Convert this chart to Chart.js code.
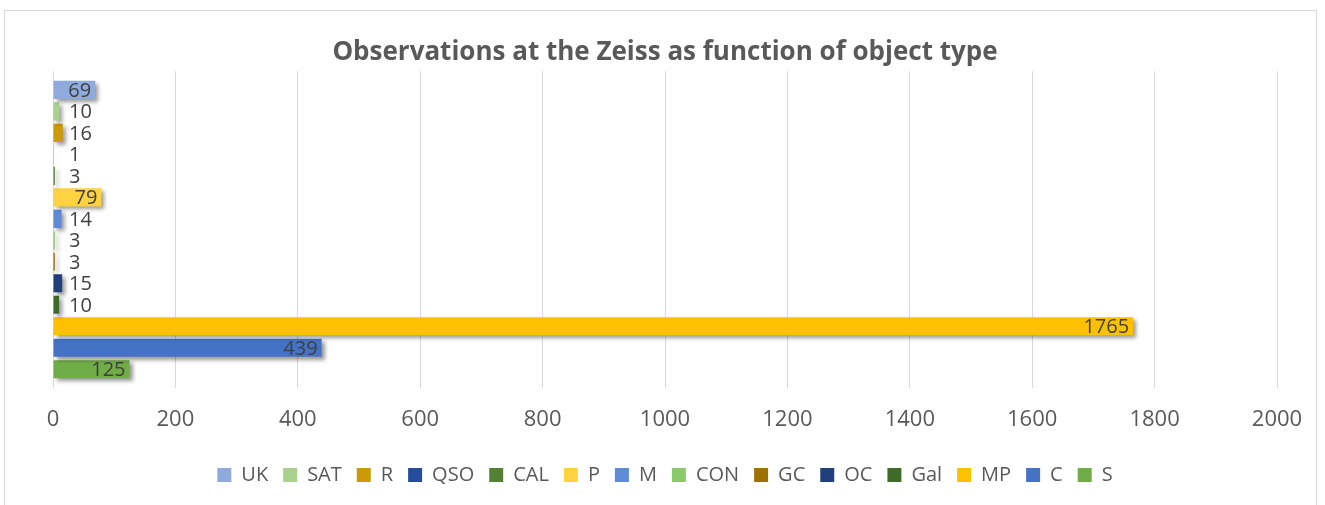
<!DOCTYPE html>
<html>
<head>
    <title>Observations at the Zeiss</title>
    <script src="https://cdn.jsdelivr.net/npm/chart.js"></script>
    <style>
        body {
            margin: 0;
            background-color: #fff;
        }
        #wrap {
            width: 1325px;
            height: 505px;
        }
    </style>
</head>
<body>
    <div id="wrap"><canvas id="zeissChart" width="1325" height="505"></canvas></div>

    <script>
        // object types, top bar first (same order as the legend)
        const objectTypes = ['UK', 'SAT', 'R', 'QSO', 'CAL', 'P', 'M', 'CON', 'GC', 'OC', 'Gal', 'MP', 'C', 'S'];
        const observations = [69, 10, 16, 1, 3, 79, 14, 3, 3, 15, 10, 1765, 439, 125];
        const barColors = ['#8FAADC', '#A9D18E', '#CC9A06', '#264D9B', '#548235', '#FFD23F', '#5E8AD6',
            '#8CC96C', '#9E7200', '#223F7C', '#3E6B27', '#FFC000', '#4472C4', '#70AD47'];
        const xTicks = [0, 200, 400, 600, 800, 1000, 1200, 1400, 1600, 1800, 2000];

        const datasets = objectTypes.map((name, i) => ({
            label: name,
            data: [observations[i]],
            backgroundColor: barColors[i],
            borderWidth: 0,
            categoryPercentage: 0.95,
            barPercentage: 0.84
        }));

        // outer frame like the spreadsheet chart box
        const framePlugin = {
            id: 'frame',
            beforeDraw(chart) {
                const ctx = chart.ctx;
                ctx.save();
                ctx.fillStyle = '#fff';
                ctx.fillRect(0, 0, chart.width, chart.height);
                ctx.strokeStyle = '#d9d9d9';
                ctx.lineWidth = 1;
                ctx.strokeRect(4.5, 10.5, chart.width - 13, chart.height);
                ctx.restore();
            }
        };

        // soft drop shadow under the bars
        const shadowPlugin = {
            id: 'barShadow',
            beforeDatasetsDraw(chart) {
                const ctx = chart.ctx;
                ctx.save();
                ctx.shadowColor = 'rgba(0,0,0,0.4)';
                ctx.shadowBlur = 4;
                ctx.shadowOffsetX = 3;
                ctx.shadowOffsetY = 3;
            },
            afterDatasetsDraw(chart) {
                chart.ctx.restore();
            }
        };

        // value labels: inside the bar end when it fits, otherwise just right of the axis
        const labelPlugin = {
            id: 'valueLabels',
            afterDatasetsDraw(chart) {
                const ctx = chart.ctx;
                const x0 = chart.scales.x.getPixelForValue(0);
                ctx.save();
                ctx.font = '20px "Open Sans", sans-serif';
                ctx.fillStyle = '#404040';
                ctx.textBaseline = 'middle';
                chart.data.datasets.forEach((ds, i) => {
                    const bar = chart.getDatasetMeta(i).data[0];
                    const txt = String(ds.data[0]);
                    const w = ctx.measureText(txt).width;
                    if (bar.x - x0 > w + 10) {
                        ctx.textAlign = 'right';
                        ctx.fillText(txt, bar.x - 4, bar.y + 1);
                    } else {
                        ctx.textAlign = 'left';
                        ctx.fillText(txt, Math.max(bar.x + 5, x0 + 16), bar.y + 1);
                    }
                });
                ctx.restore();
            }
        };

        new Chart(document.getElementById('zeissChart'), {
            type: 'bar',
            data: {
                labels: ['Observations'],
                datasets: datasets
            },
            plugins: [framePlugin, shadowPlugin, labelPlugin],
            options: {
                indexAxis: 'y',
                responsive: false,
                animation: false,
                layout: {
                    padding: { left: 53, right: 48, top: 37, bottom: 10 }
                },
                scales: {
                    x: {
                        min: 0,
                        max: 2000,
                        afterBuildTicks(axis) {
                            axis.ticks = xTicks.map(v => ({ value: v }));
                        },
                        afterFit(axis) {
                            axis.height = 62;
                        },
                        grid: { color: '#d9d9d9', drawTicks: false },
                        border: { display: false },
                        ticks: {
                            color: '#595959',
                            padding: 19,
                            font: { family: '"Open Sans", sans-serif', size: 22 },
                            callback: v => String(v)
                        }
                    },
                    y: {
                        display: false
                    }
                },
                plugins: {
                    title: {
                        display: true,
                        text: 'Observations at the Zeiss as function of object type',
                        color: '#595959',
                        font: { family: '"Open Sans", sans-serif', size: 26, weight: 'bold' },
                        padding: { top: 0, bottom: 3 }
                    },
                    legend: {
                        position: 'bottom',
                        labels: {
                            color: '#595959',
                            boxWidth: 14,
                            boxHeight: 14,
                            padding: 15,
                            font: { family: '"Open Sans", sans-serif', size: 20 }
                        }
                    },
                    tooltip: { enabled: false }
                }
            }
        });
    </script>
</body>
</html>
